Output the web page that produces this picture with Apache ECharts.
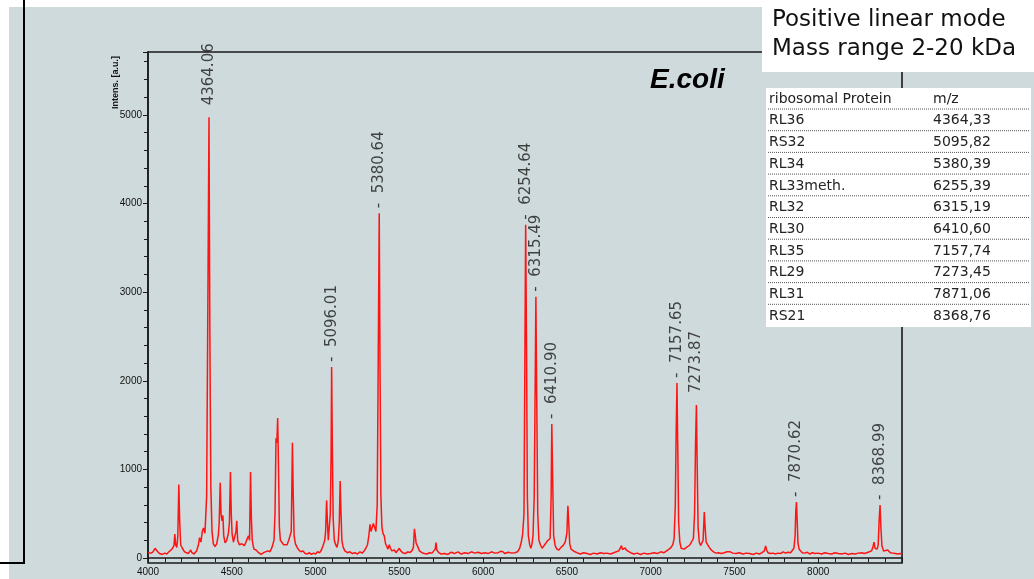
<!DOCTYPE html>
<html><head><meta charset="utf-8">
<script src="https://cdn.jsdelivr.net/npm/echarts@6/dist/echarts.min.js"></script>
<style>html,body{margin:0;padding:0;background:#fff}#c{width:1034px;height:579px}</style>
</head><body><div id="c"></div>
<script>
// MALDI spectrum: [m/z, intensity]
const spectrum = [
[4000,60],[4008,80],[4018,55],[4030,70],[4042,110],[4050,95],[4058,70],[4070,50],[4085,40],[4100,55],[4112,45],[4125,70],[4135,60],[4143,100],
[4155,140],[4160,270],[4165,150],[4172,120],[4178,250],[4184,830],[4189,420],[4195,150],[4205,110],[4218,70],[4228,80],[4240,50],[4255,90],[4262,60],[4275,45],[4290,80],
[4300,140],[4308,230],[4316,180],[4324,300],[4331,340],[4340,280],[4350,700],[4357,2800],[4364,4973],[4369,2600],[4375,800],[4382,300],[4390,160],[4400,130],[4410,160],
[4420,260],[4425,400],[4431,850],[4436,500],[4441,420],[4447,480],[4452,250],[4460,170],[4470,200],[4480,280],[4486,400],[4492,970],[4497,500],[4502,270],[4510,180],
[4518,200],[4525,300],[4530,420],[4535,200],[4545,150],[4560,160],[4575,140],[4585,180],[4592,220],[4600,250],[4606,200],[4612,970],[4617,450],[4622,200],[4632,100],
[4645,90],[4660,60],[4675,40],[4690,60],[4700,45],[4715,80],[4728,70],[4740,120],[4752,200],[4758,500],[4764,1350],[4769,1300],[4774,1580],[4779,1000],[4784,350],
[4790,200],[4800,180],[4810,150],[4820,130],[4830,150],[4840,200],[4848,220],[4855,300],[4862,1300],[4867,700],[4872,250],[4880,160],[4890,120],[4900,90],[4912,70],
[4925,80],[4938,50],[4950,45],[4962,60],[4975,40],[4988,55],[5000,45],[5012,70],[5025,60],[5035,90],[5045,140],[5055,200],[5060,300],[5066,650],[5071,400],[5076,200],
[5082,180],[5088,500],[5093,1200],[5096,2155],[5100,1300],[5105,450],[5112,200],[5120,150],[5128,120],[5136,200],[5142,420],[5147,870],[5152,500],[5157,200],[5165,120],
[5175,80],[5190,60],[5205,70],[5220,50],[5235,60],[5250,45],[5265,70],[5278,55],[5290,80],[5300,110],[5310,150],[5318,250],[5325,380],[5331,300],[5338,280],[5345,390],
[5352,350],[5360,300],[5368,600],[5374,2200],[5380,3890],[5385,2100],[5390,700],[5396,350],[5402,280],[5410,250],[5418,160],[5425,130],[5432,100],[5440,150],[5447,110],
[5455,80],[5470,90],[5480,60],[5490,80],[5500,110],[5508,80],[5520,60],[5535,50],[5550,70],[5562,60],[5575,80],[5584,120],[5590,330],[5595,260],[5600,170],[5606,190],
[5612,120],[5620,80],[5635,60],[5650,50],[5665,45],[5680,60],[5695,55],[5705,70],[5714,100],[5719,175],[5724,90],[5735,60],[5750,45],[5770,50],[5790,40],[5810,65],
[5830,50],[5850,70],[5870,45],[5890,60],[5910,50],[5930,70],[5950,55],[5970,65],[5990,50],[6010,60],[6030,50],[6050,70],[6070,55],[6090,60],[6105,75],[6112,95],
[6118,70],[6130,50],[6150,65],[6170,55],[6190,60],[6205,70],[6218,110],[6228,180],[6236,270],[6244,500],[6250,2500],[6254,3761],[6259,2400],[6264,700],[6270,250],
[6278,150],[6285,110],[6292,160],[6298,260],[6305,700],[6311,2000],[6315,2949],[6320,1800],[6326,500],[6333,200],[6342,150],[6352,110],[6362,130],[6372,160],[6382,190],
[6392,210],[6400,220],[6406,700],[6410,1512],[6415,900],[6421,250],[6430,140],[6440,100],[6452,90],[6465,120],[6477,140],[6490,180],[6500,280],[6506,590],[6511,400],
[6517,160],[6525,100],[6535,120],[6548,70],[6560,60],[6580,45],[6600,60],[6620,50],[6640,40],[6660,55],[6680,45],[6700,60],[6720,50],[6740,55],[6760,45],[6780,60],
[6795,70],[6810,80],[6820,100],[6826,140],[6832,95],[6840,90],[6848,115],[6855,90],[6865,70],[6880,60],[6900,45],[6920,55],[6940,40],[6960,55],[6980,45],[7000,50],
[7020,60],[7040,50],[7060,70],[7080,60],[7095,80],[7110,100],[7122,120],[7132,150],[7140,220],[7147,600],[7152,1400],[7157,1975],[7162,1200],[7167,400],[7174,180],
[7182,110],[7192,130],[7200,100],[7210,120],[7222,130],[7235,150],[7245,170],[7255,220],[7262,500],[7268,1300],[7273,1726],[7278,1000],[7283,350],[7290,180],[7298,140],
[7306,160],[7313,200],[7320,520],[7325,350],[7331,180],[7340,150],[7350,120],[7362,90],[7375,70],[7390,55],[7405,60],[7420,50],[7440,60],[7455,70],[7465,90],[7475,70],
[7490,55],[7510,50],[7530,60],[7550,45],[7570,55],[7590,50],[7610,40],[7630,55],[7650,45],[7665,60],[7678,80],[7686,135],[7692,90],[7700,60],[7715,50],[7730,55],
[7745,45],[7760,55],[7775,50],[7790,70],[7805,55],[7820,65],[7835,60],[7845,80],[7855,110],[7862,250],[7866,520],[7870,632],[7874,450],[7879,170],[7886,100],[7895,80],
[7905,60],[7920,55],[7935,65],[7950,45],[7965,60],[7980,50],[8000,55],[8020,45],[8040,60],[8060,50],[8080,45],[8100,60],[8120,50],[8140,45],[8160,55],[8180,40],
[8200,50],[8220,45],[8240,55],[8260,60],[8275,50],[8290,60],[8305,70],[8318,80],[8326,120],[8333,180],[8339,110],[8346,90],[8352,100],[8358,150],[8363,400],[8369,598],
[8374,350],[8380,140],[8390,80],[8400,70],[8415,90],[8430,60],[8445,55],[8460,50],[8475,45],[8490,50],[8500,45]
];

// annotated peaks
const peakMz     = [4364.06, 5096.01, 5380.64, 6254.64, 6315.49, 6410.90, 7157.65, 7273.87, 7870.62, 8368.99];
const peakHeight = [4973, 2155, 3890, 3761, 2949, 1512, 1975, 1726, 632, 598];
const peakText   = ['4364.06','5096.01','5380.64','6254.64','6315.49','6410.90','7157.65','7273.87','7870.62','8368.99'];
const peakDash   = [false, true, true, true, true, true, true, false, true, true];

// table
const proteins  = ['RL36','RS32','RL34','RL33meth.','RL32','RL30','RL35','RL29','RL31','RS21'];
const proteinMz = ['4364,33','5095,82','5380,39','6255,39','6315,19','6410,60','7157,74','7273,45','7871,06','8368,76'];
const infoLines = ['Positive linear mode', 'Mass range 2-20 kDa'];

const FONT = '"Liberation Sans", Arial, sans-serif';
const WFONT = '"DejaVu Sans", sans-serif';
const chart = echarts.init(document.getElementById('c'), null, {renderer: 'canvas'});

const graphics = [];
graphics.push({type:'rect', z:-100, shape:{x:9,y:7,width:1025,height:572}, style:{fill:'#cfdadc'}});
graphics.push({type:'polyline', z:-50, shape:{points:[[24,0],[24,563],[0,563]]}, style:{stroke:'#000', lineWidth:2, fill:null}});
graphics.push({type:'rect', z:-40, shape:{x:148,y:52,width:754,height:511}, style:{stroke:'#1a1a1a', lineWidth:1.6, fill:null}});
graphics.push({type:'text', x:116, y:109, rotation:Math.PI/2, style:{text:'Intens. [a.u.]', font:'bold 9px ' + FONT, fill:'#111', textAlign:'left', textVerticalAlign:'middle'}});
graphics.push({type:'text', x:650, y:80, style:{text:'E.coli', font:'italic bold 28px ' + FONT, fill:'#000', textAlign:'left', textVerticalAlign:'middle'}});
// info box
graphics.push({type:'rect', z:50, shape:{x:762,y:0,width:272,height:72}, style:{fill:'#fff'}});
infoLines.forEach((t,i)=>{
  graphics.push({type:'text', z:51, x:772, y:20 + i*29, style:{text:t, font:'23px ' + WFONT, fill:'#111', textAlign:'left', textVerticalAlign:'middle'}});
});
// table
const tTop = 88, hdr = 21, rowH = 21.7, tLeft = 766, tRight = 1031;
graphics.push({type:'rect', z:50, shape:{x:tLeft,y:tTop,width:tRight-tLeft,height:hdr + rowH*proteins.length + 1}, style:{fill:'#fff'}});
graphics.push({type:'text', z:51, x:769, y:tTop+11, style:{text:'ribosomal Protein', font:'14px ' + WFONT, fill:'#222', textAlign:'left', textVerticalAlign:'middle'}});
graphics.push({type:'text', z:51, x:933, y:tTop+11, style:{text:'m/z', font:'14px ' + WFONT, fill:'#222', textAlign:'left', textVerticalAlign:'middle'}});
proteins.forEach((p,i)=>{
  const yLine = tTop + hdr + rowH*i;
  graphics.push({type:'line', z:51, shape:{x1:tLeft+2,y1:yLine,x2:tRight-2,y2:yLine}, style:{stroke:'#555', lineWidth:1, lineDash:[1,1]}});
  const yc = yLine + rowH/2 + 1;
  graphics.push({type:'text', z:51, x:769, y:yc, style:{text:p, font:'14px ' + WFONT, fill:'#222', textAlign:'left', textVerticalAlign:'middle'}});
  graphics.push({type:'text', z:51, x:933, y:yc, style:{text:proteinMz[i], font:'14px ' + WFONT, fill:'#222', textAlign:'left', textVerticalAlign:'middle'}});
});

chart.setOption({
  animation:false,
  backgroundColor:'#fff',
  grid:{left:148, top:52, right:132, bottom:21, containLabel:false},
  xAxis:{
    type:'value', min:4000, max:8500, interval:500, offset:5,
    axisLine:{show:true, lineStyle:{color:'#1a1a1a', width:1.5}},
    axisTick:{show:true, length:5, lineStyle:{color:'#1a1a1a'}},
    minorTick:{show:true, splitNumber:5, length:4, lineStyle:{color:'#1a1a1a'}},
    splitLine:{show:false},
    axisLabel:{fontSize:10, color:'#111', margin:4, fontFamily:FONT, showMaxLabel:false, formatter:v=>String(v)}
  },
  yAxis:{
    type:'value', min:0, max:5710, interval:1000,
    axisLine:{show:true, lineStyle:{color:'#1a1a1a', width:1.5}},
    axisTick:{show:true, length:5, lineStyle:{color:'#1a1a1a'}},
    minorTick:{show:true, splitNumber:5, length:4, lineStyle:{color:'#1a1a1a'}},
    splitLine:{show:false},
    axisLabel:{fontSize:10, color:'#111', margin:6, fontFamily:FONT, showMaxLabel:false, formatter:v=>String(v)}
  },
  series:[
    {type:'line', data:spectrum, showSymbol:false, symbol:'none', silent:true,
     lineStyle:{color:'#ff1414', width:1.5}, z:3, clip:false},
    {type:'scatter', symbolSize:0, silent:true, z:4,
     data:peakMz.map((m,i)=>({value:[m, peakHeight[i]],
        label:{formatter:(peakDash[i] ? '-  ' : '') + peakText[i], distance: peakDash[i] ? 5 : 12}})),
     label:{show:true, position:'top', rotate:90, align:'left', verticalAlign:'middle',
            fontSize:15, color:'#1a1a1a', fontFamily:WFONT}}
  ],
  graphic:{elements:graphics}
});
</script>
</body></html>
